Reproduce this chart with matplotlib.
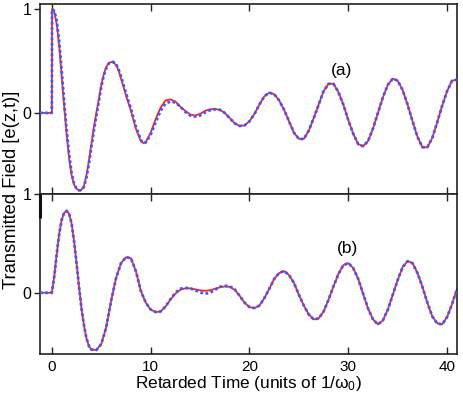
import matplotlib
matplotlib.use("Agg")
import matplotlib.pyplot as plt

plt.rcParams['font.family'] = ['Liberation Sans', 'DejaVu Sans']
plt.rcParams['mathtext.fontset'] = 'custom'
plt.rcParams['mathtext.rm'] = 'Liberation Sans'
plt.rcParams['mathtext.it'] = 'Liberation Sans'

# ---------------- data ----------------
t_a = [-1.2, 0.0, 0.02, 0.25, 0.5, 0.75, 1.0, 1.25, 1.5, 1.75, 2.0, 2.25, 2.5, 2.75, 3.0,
       3.25, 3.5, 3.75, 4.0, 4.25, 4.5, 4.75, 5.0, 5.25, 5.5, 5.75, 6.0, 6.25, 6.5, 6.75,
       7.0, 7.5, 8.0, 8.5, 9.0, 9.25, 9.5, 10.0, 10.5, 11.0, 11.5, 12.0, 12.5, 13.0, 13.5,
       14.0, 14.5, 15.0, 15.5, 16.0, 16.5, 17.0, 17.5, 18.0, 18.5, 19.0, 19.5, 20.0, 20.5,
       21.0, 21.5, 22.0, 22.5, 23.0, 23.5, 24.0, 24.5, 25.0, 25.5, 26.0, 26.5, 27.0, 27.5,
       28.0, 28.5, 29.0, 29.5, 30.0, 30.5, 31.0, 31.5, 32.0, 32.5, 33.0, 33.5, 34.0, 34.5,
       35.0, 35.5, 36.0, 36.5, 37.0, 37.5, 38.0, 38.5, 39.0, 39.5, 40.0, 40.5, 41.0]
red_a = [0.0, 0.0, 1.0, 0.97, 0.85, 0.64, 0.35, 0.06, -0.21, -0.44, -0.60, -0.69, -0.73, -0.745, -0.74,
         -0.70, -0.60, -0.46, -0.30, -0.14, 0.0, 0.13, 0.27, 0.37, 0.44, 0.48, 0.49, 0.485, 0.46, 0.41,
         0.33, 0.17, 0.02, -0.15, -0.27, -0.29, -0.28, -0.19, -0.06, 0.05, 0.12, 0.13, 0.11, 0.06, 0.02,
         -0.015, -0.025, -0.01, 0.02, 0.035, 0.037, 0.03, 0.0, -0.05, -0.10, -0.125, -0.12, -0.08, -0.01,
         0.08, 0.16, 0.195, 0.18, 0.12, 0.03, -0.08, -0.19, -0.25, -0.25, -0.17, -0.05, 0.08, 0.21,
         0.28, 0.28, 0.20, 0.08, -0.07, -0.20, -0.30, -0.32, -0.27, -0.15, 0.0, 0.15, 0.27, 0.33,
         0.31, 0.22, 0.08, -0.08, -0.23, -0.33, -0.33, -0.24, -0.09, 0.07, 0.21, 0.31, 0.32]
blue_a = [0.0, 0.0, 1.0, 0.98, 0.88, 0.68, 0.40, 0.10, -0.17, -0.40, -0.58, -0.68, -0.73, -0.745, -0.745,
          -0.71, -0.62, -0.49, -0.33, -0.17, -0.03, 0.11, 0.25, 0.36, 0.43, 0.475, 0.49, 0.49, 0.47, 0.42,
          0.35, 0.19, 0.04, -0.13, -0.26, -0.29, -0.285, -0.21, -0.09, 0.02, 0.09, 0.11, 0.10, 0.06, 0.01,
          -0.025, -0.035, -0.025, 0.005, 0.025, 0.035, 0.03, 0.0, -0.05, -0.10, -0.125, -0.12, -0.08, -0.01,
          0.08, 0.16, 0.195, 0.18, 0.12, 0.03, -0.08, -0.19, -0.25, -0.25, -0.17, -0.05, 0.08, 0.21,
          0.28, 0.28, 0.20, 0.08, -0.07, -0.20, -0.30, -0.32, -0.27, -0.15, 0.0, 0.15, 0.27, 0.33,
          0.31, 0.22, 0.08, -0.08, -0.23, -0.33, -0.33, -0.24, -0.09, 0.07, 0.21, 0.31, 0.32]

t_b = [-1.2, 0.0, 0.25, 0.5, 0.75, 1.0, 1.25, 1.5, 1.75, 2.0, 2.25, 2.5, 2.75, 3.0, 3.25,
       3.5, 3.75, 4.0, 4.5, 5.0, 5.5, 6.0, 6.5, 7.0, 7.5, 8.0, 8.5, 9.0, 9.5, 10.0,
       10.5, 11.0, 11.5, 12.0, 12.5, 13.0, 13.5, 14.0, 14.5, 15.0, 15.5, 16.0, 16.5, 17.0, 17.5,
       18.0, 18.5, 19.0, 19.5, 20.0, 20.5, 21.0, 21.5, 22.0, 22.5, 23.0, 23.5, 24.0, 24.5,
       25.0, 25.5, 26.0, 26.5, 27.0, 27.5, 28.0, 28.5, 29.0, 29.5, 30.0, 30.5, 31.0, 31.5,
       32.0, 32.5, 33.0, 33.5, 34.0, 34.5, 35.0, 35.5, 36.0, 36.5, 37.0, 37.5, 38.0, 38.5,
       39.0, 39.5, 40.0, 40.5, 41.0]
red_b = [0.0, 0.0, 0.17, 0.40, 0.60, 0.74, 0.81, 0.83, 0.80, 0.70, 0.52, 0.30, 0.06, -0.16, -0.33,
         -0.46, -0.54, -0.575, -0.58, -0.52, -0.35, -0.08, 0.15, 0.30, 0.36, 0.35, 0.22, 0.02, -0.10, -0.17,
         -0.195, -0.19, -0.14, -0.07, -0.01, 0.03, 0.045, 0.045, 0.035, 0.025, 0.02, 0.025, 0.04, 0.055, 0.064,
         0.06, 0.03, -0.03, -0.10, -0.145, -0.155, -0.13, -0.055, 0.04, 0.14, 0.20, 0.22, 0.18, 0.10,
         -0.02, -0.13, -0.22, -0.27, -0.26, -0.19, -0.07, 0.065, 0.19, 0.28, 0.30, 0.25, 0.14, -0.01,
         -0.16, -0.27, -0.32, -0.28, -0.17, -0.02, 0.13, 0.26, 0.32, 0.30, 0.20, 0.06, -0.10, -0.24,
         -0.31, -0.32, -0.245, -0.115, 0.04]
blue_b = [0.0, 0.0, 0.17, 0.40, 0.60, 0.74, 0.81, 0.83, 0.80, 0.70, 0.52, 0.30, 0.06, -0.16, -0.33,
          -0.46, -0.54, -0.575, -0.58, -0.52, -0.35, -0.08, 0.15, 0.30, 0.36, 0.35, 0.22, 0.02, -0.10, -0.17,
          -0.195, -0.19, -0.14, -0.065, 0.0, 0.04, 0.05, 0.045, 0.025, 0.005, -0.01, 0.0, 0.03, 0.06, 0.07,
          0.065, 0.035, -0.03, -0.10, -0.145, -0.155, -0.13, -0.055, 0.04, 0.14, 0.20, 0.22, 0.18, 0.10,
          -0.02, -0.13, -0.22, -0.27, -0.26, -0.19, -0.07, 0.065, 0.19, 0.28, 0.30, 0.25, 0.14, -0.01,
          -0.16, -0.27, -0.32, -0.28, -0.17, -0.02, 0.13, 0.26, 0.32, 0.30, 0.20, 0.06, -0.10, -0.24,
          -0.31, -0.32, -0.245, -0.115, 0.04]

x_ticks = [0, 10, 20, 30, 40]
x_ticklabels = ['0', '10', '20', '30', '40']
panel_labels = ['(a)', '(b)']
xlabel = r'Retarded Time (units of 1/$\omega_0$)'
ylabel = 'Transmitted Field [e(z,t)]'

# ---------------- figure ----------------
W, H = 463, 394
fig = plt.figure(figsize=(W / 100, H / 100), dpi=100)

def frac(l, t, r, b):
    return [l / W, 1 - b / H, (r - l) / W, (b - t) / H]

ax1 = fig.add_axes(frac(40, 4, 457, 194))
ax2 = fig.add_axes(frac(40, 194, 457, 354))

RED = '#ff2020'
BLUE = '#3a5cff'

ax1.plot(t_a, red_a, color=RED, lw=1.3, zorder=2)
ax1.plot(t_a, blue_a, color=BLUE, lw=2.0, ls=(0, (1.0, 0.9)), zorder=3)
ax2.plot(t_b, red_b, color=RED, lw=1.3, zorder=2)
ax2.plot(t_b, blue_b, color=BLUE, lw=2.0, ls=(0, (1.0, 0.9)), zorder=3)

for ax in (ax1, ax2):
    ax.set_xlim(-1.2, 41.0)
    ax.set_xticks(x_ticks)
    for s in ax.spines.values():
        s.set_linewidth(1.2)
        s.set_color('#222222')
    ax.tick_params(axis='x', direction='in', length=5, width=1.0, top=True, bottom=True,
                   labelsize=11, pad=4, color='#222222')
    ax.tick_params(axis='y', direction='out', length=4, width=1.0, labelsize=11.5, pad=2,
                   color='#222222')

ax1.set_ylim(-0.78, 1.048)
ax1.set_yticks([0, 1])
ax1.set_yticklabels(['0', '1'])
ax1.tick_params(axis='x', labelbottom=False)

ax2.set_ylim(-0.62, 1.0)
ax2.set_yticks([0, 1])
ax2.set_yticklabels(['0', '1'])
ax2.set_xticklabels(x_ticklabels)
ax2.set_xlabel(xlabel, fontsize=12.4, labelpad=0)

ax1.text(29.3, 0.41, panel_labels[0], fontsize=12.5, ha='center', va='center')
ax2.text(29.9, 0.45, panel_labels[1], fontsize=12.5, ha='center', va='center')

# thick segment on left spine at top of lower panel
ax2.plot([0, 0], [1.0, 0.85], transform=ax2.transAxes, color='#111111', lw=2.2,
         clip_on=False, solid_capstyle='butt', zorder=5)

fig.text(12 / W, 1 - 190 / H, ylabel, rotation=90, fontsize=13.2, ha='center', va='center')

fig.savefig('out.png', dpi=100)
